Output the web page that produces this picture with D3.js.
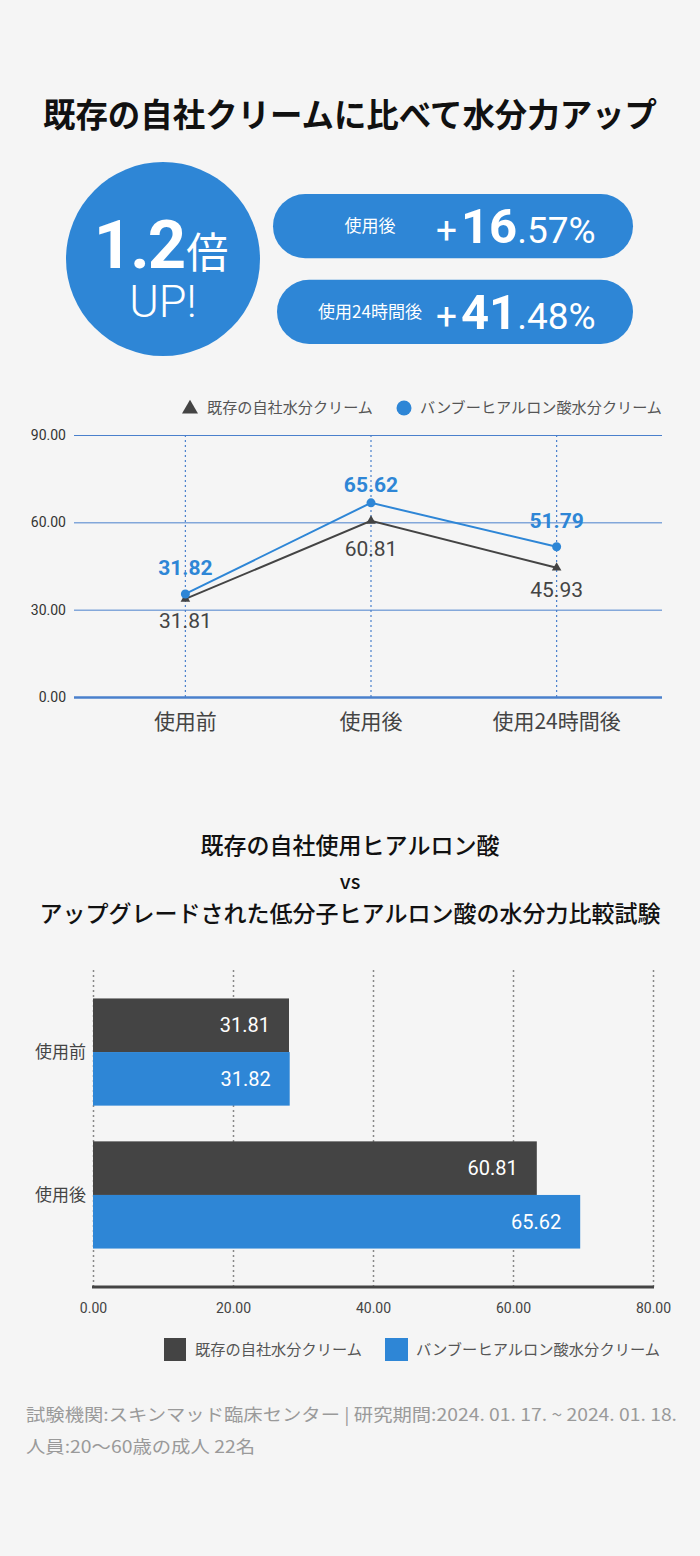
<!DOCTYPE html>
<html>
<head>
<meta charset="utf-8">
<script src="https://cdn.jsdelivr.net/npm/d3@7"></script>
<style>
  html, body { margin: 0; padding: 0; background: #f5f5f5; }
  svg { display: block; }
  text { font-family: "Noto Sans CJK JP", "Noto Sans", sans-serif; }
  .num { font-family: Roboto, "Noto Sans", sans-serif; }
</style>
</head>
<body>
<svg id="chart"></svg>
<script>
// ---- data ----
const title = "既存の自社クリームに比べて水分力アップ";
const gainLabels = ["使用後", "使用24時間後"];
const gainInt = ["16", "41"];
const gainDec = [".57%", ".48%"];

const seriesNames = ["既存の自社水分クリーム", "バンブーヒアルロン酸水分クリーム"];
const categories = ["使用前", "使用後", "使用24時間後"];
// printed labels
const existingLabels = [31.81, 60.81, 45.93];
const bambooLabels = [31.82, 65.62, 51.79];
// marker heights as they are drawn in the picture
const existingPlotted = [33.7, 60.5, 44.4];
const bambooPlotted = [35.4, 66.7, 51.6];
const yTicks = [0, 30, 60, 90];

const subTitle = ["既存の自社使用ヒアルロン酸", "vs", "アップグレードされた低分子ヒアルロン酸の水分力比較試験"];
const barCategories = ["使用前", "使用後"];
const barExistingLabels = [31.81, 60.81];
const barBambooLabels = [31.82, 65.62];
const barExistingPlotted = [28.0, 63.4];
const barBambooPlotted = [28.1, 69.6];
const xTicks = [0, 20, 40, 60, 80];

const footnotes = [
  "試験機関:スキンマッド臨床センター | 研究期間:2024. 01. 17. ~ 2024. 01. 18.",
  "人員:20〜60歳の成人 22名"
];

const BLUE = "#2e86d6";
const DARK = "#444444";
const GRID = "#4a80cc";
const fmt = d3.format(".2f");

const W = 700, H = 1556;
const svg = d3.select("#chart").attr("width", W).attr("height", H);
svg.append("rect").attr("width", W).attr("height", H).attr("fill", "#f5f5f5");

// ---- headline ----
svg.append("text")
  .attr("x", 350).attr("y", 127)
  .attr("text-anchor", "middle")
  .attr("font-size", 33).attr("font-weight", 700).attr("fill", "#111")
  .attr("textLength", 614).attr("lengthAdjust", "spacingAndGlyphs")
  .text(title);

const badge = svg.append("g").attr("transform", "translate(163,259)");
badge.append("circle").attr("r", 97).attr("fill", BLUE);
const big = badge.append("text").attr("x", -2).attr("y", 9).attr("text-anchor", "middle").attr("fill", "#fff");
big.append("tspan").attr("class", "num").attr("font-size", 67).attr("font-weight", 700)
  .attr("letter-spacing", -2).text("1.2");
big.append("tspan").attr("font-size", 42).attr("font-weight", 400).attr("dx", 2).text("倍");
badge.append("text").attr("class", "num").attr("y", 58).attr("text-anchor", "middle")
  .attr("fill", "#fff").attr("font-size", 45).attr("font-weight", 300)
  .text("UP!");

const pillY = d3.scaleBand().domain(gainLabels).range([194, 344]).paddingInner(0.25);
const pills = svg.append("g").selectAll("g").data(gainLabels).join("g")
  .attr("transform", (d, i) => `translate(0,${pillY(d)})`);
pills.append("rect")
  .attr("x", (d, i) => i === 0 ? 273 : 277)
  .attr("width", (d, i) => i === 0 ? 360 : 356)
  .attr("height", pillY.bandwidth()).attr("rx", pillY.bandwidth() / 2)
  .attr("fill", BLUE);
pills.append("text")
  .attr("x", 370).attr("y", pillY.bandwidth() / 2 + 6)
  .attr("text-anchor", "middle").attr("fill", "#fff").attr("font-size", 17)
  .text(d => d);
const gain = pills.append("text").attr("class", "num")
  .attr("x", 436).attr("y", pillY.bandwidth() / 2 + 17).attr("fill", "#fff");
gain.append("tspan").attr("font-size", 37).attr("font-weight", 400).text("+");
gain.append("tspan").attr("font-size", 49).attr("font-weight", 700).attr("dx", 4)
  .text((d, i) => gainInt[i]);
gain.append("tspan").attr("font-size", 37).attr("font-weight", 400)
  .text((d, i) => gainDec[i]);

// ---- line chart ----
const lx = d3.scalePoint().domain(categories).range([74, 668]).padding(0.6);
const ly = d3.scaleLinear().domain([0, 90]).range([697, 435]);

const yAxis = svg.append("g").attr("transform", "translate(74,0)")
  .call(d3.axisLeft(ly).tickValues(yTicks).tickFormat(fmt).tickSize(-588).tickPadding(8));
yAxis.select(".domain").remove();
yAxis.selectAll(".tick line").attr("stroke", GRID).attr("stroke-width", d => d === 0 ? 2.5 : 1);
yAxis.selectAll(".tick text").attr("class", "num").attr("font-size", 14).attr("fill", "#333");

svg.append("g").selectAll("line").data(categories).join("line")
  .attr("x1", d => lx(d)).attr("x2", d => lx(d))
  .attr("y1", ly(90)).attr("y2", ly(0))
  .attr("stroke", GRID).attr("stroke-width", 1.2).attr("stroke-dasharray", "2,3");

svg.append("g").selectAll("text").data(categories).join("text")
  .attr("x", d => lx(d)).attr("y", 729)
  .attr("text-anchor", "middle").attr("font-size", 21).attr("fill", "#444")
  .text(d => d);

const line = d3.line().x((d, i) => lx(categories[i])).y(d => ly(d));
svg.append("path").datum(existingPlotted).attr("d", line)
  .attr("fill", "none").attr("stroke", DARK).attr("stroke-width", 2);
svg.append("path").datum(bambooPlotted).attr("d", line)
  .attr("fill", "none").attr("stroke", BLUE).attr("stroke-width", 2);

const tri = d3.symbol().type(d3.symbolTriangle).size(40);
svg.append("g").selectAll("path").data(existingPlotted).join("path")
  .attr("d", tri).attr("fill", DARK)
  .attr("transform", (d, i) => `translate(${lx(categories[i])},${ly(d)})`);
svg.append("g").selectAll("circle").data(bambooPlotted).join("circle")
  .attr("cx", (d, i) => lx(categories[i])).attr("cy", d => ly(d)).attr("r", 4.5).attr("fill", BLUE);

svg.append("g").selectAll("text").data(bambooLabels).join("text").attr("class", "num")
  .attr("x", (d, i) => lx(categories[i])).attr("y", (d, i) => ly(bambooPlotted[i]) - (i === 1 ? 11 : 19))
  .attr("text-anchor", "middle").attr("font-size", 21).attr("font-weight", 700).attr("fill", BLUE)
  .text(d => fmt(d));
svg.append("g").selectAll("text").data(existingLabels).join("text").attr("class", "num")
  .attr("x", (d, i) => lx(categories[i])).attr("y", (d, i) => ly(existingPlotted[i]) + (i === 1 ? 35 : 29))
  .attr("text-anchor", "middle").attr("font-size", 21).attr("fill", "#444")
  .text(d => fmt(d));

// legend
const lg = svg.append("g").attr("transform", "translate(0,408)");
lg.append("path").attr("d", d3.symbol().type(d3.symbolTriangle).size(110))
  .attr("transform", "translate(190,1)").attr("fill", DARK);
lg.append("text").attr("x", 207).attr("y", 5).attr("font-size", 15).attr("fill", "#555")
  .attr("textLength", 166).attr("lengthAdjust", "spacingAndGlyphs").text(seriesNames[0]);
lg.append("circle").attr("cx", 404).attr("cy", 0).attr("r", 7.5).attr("fill", BLUE);
lg.append("text").attr("x", 420).attr("y", 5).attr("font-size", 15).attr("fill", "#555")
  .attr("textLength", 242).attr("lengthAdjust", "spacingAndGlyphs").text(seriesNames[1]);

// ---- bar chart ----
svg.append("g").selectAll("text").data(subTitle).join("text")
  .attr("x", 350).attr("y", (d, i) => [854, 889, 922][i])
  .attr("text-anchor", "middle").attr("font-size", d => d === "vs" ? 20 : 23)
  .attr("font-weight", 500).attr("fill", "#111")
  .text(d => d);

const bx = d3.scaleLinear().domain([0, 80]).range([93, 653]);
const by = d3.scaleBand().domain(barCategories).range([967, 1280]).paddingInner(0.25).paddingOuter(0.22);
const bs = d3.scaleBand().domain([0, 1]).range([0, by.bandwidth()]);

const xAxis = svg.append("g").attr("transform", "translate(0,1287)")
  .call(d3.axisBottom(bx).tickValues(xTicks).tickFormat(fmt).tickSize(-320).tickPadding(16));
xAxis.select(".domain").remove();
xAxis.selectAll(".tick line").attr("stroke", "#888").attr("stroke-width", 1.5).attr("stroke-dasharray", "2,3");
xAxis.selectAll(".tick text").attr("class", "num").attr("font-size", 14).attr("fill", "#444");

const barSeries = [
  { plotted: barExistingPlotted, labels: barExistingLabels, color: DARK },
  { plotted: barBambooPlotted, labels: barBambooLabels, color: BLUE }
];
barSeries.forEach((s, si) => {
  const g = svg.append("g");
  g.selectAll("rect").data(s.plotted).join("rect")
    .attr("x", bx(0)).attr("y", (d, i) => by(barCategories[i]) + bs(si))
    .attr("width", d => bx(d) - bx(0)).attr("height", bs.bandwidth())
    .attr("fill", s.color);
  g.selectAll("text").data(s.labels).join("text").attr("class", "num")
    .attr("x", (d, i) => bx(s.plotted[i]) - 19)
    .attr("y", (d, i) => by(barCategories[i]) + bs(si) + bs.bandwidth() / 2 + 7)
    .attr("text-anchor", "end").attr("font-size", 20).attr("fill", "#fff")
    .text(d => fmt(d));
});

svg.append("line").attr("x1", bx(0) - 1).attr("x2", bx(80) + 1).attr("y1", 1287).attr("y2", 1287)
  .attr("stroke", DARK).attr("stroke-width", 3);

svg.append("g").selectAll("text").data(barCategories).join("text")
  .attr("x", 86).attr("y", d => by(d) + by.bandwidth() / 2 + 6)
  .attr("text-anchor", "end").attr("font-size", 17).attr("fill", "#444")
  .text(d => d);

const bl = svg.append("g").attr("transform", "translate(0,1349)");
bl.append("rect").attr("x", 164).attr("y", -11).attr("width", 22).attr("height", 23).attr("fill", DARK);
bl.append("text").attr("x", 195).attr("y", 6).attr("font-size", 15).attr("fill", "#555")
  .attr("textLength", 167).attr("lengthAdjust", "spacingAndGlyphs").text(seriesNames[0]);
bl.append("rect").attr("x", 385).attr("y", -11).attr("width", 23).attr("height", 23).attr("fill", BLUE);
bl.append("text").attr("x", 416).attr("y", 6).attr("font-size", 15).attr("fill", "#555")
  .attr("textLength", 244).attr("lengthAdjust", "spacingAndGlyphs").text(seriesNames[1]);

// ---- footnote ----
svg.append("g").selectAll("text").data(footnotes).join("text")
  .attr("x", 26).attr("y", (d, i) => 1421 + i * 32)
  .attr("font-size", 17).attr("fill", "#9a9a9a")
  .attr("textLength", (d, i) => [651, 229][i]).attr("lengthAdjust", "spacingAndGlyphs")
  .text(d => d);
</script>
</body>
</html>
